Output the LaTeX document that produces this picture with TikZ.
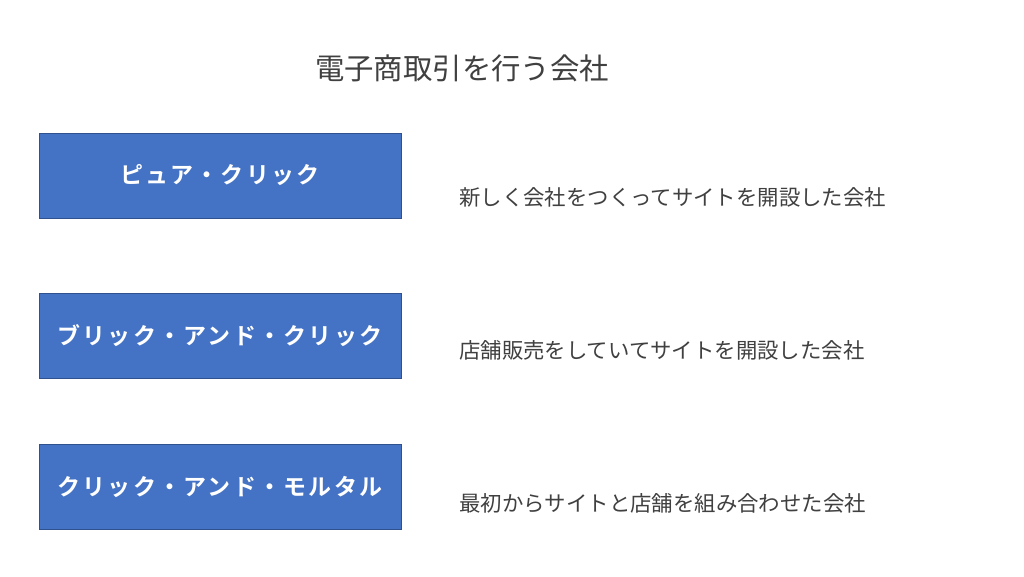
\documentclass[tikz,border=0pt]{standalone}
\usepackage{fontspec}
\newfontfamily\cjk{Noto Sans CJK JP}
\newfontfamily\cjkb[LetterSpace=10]{Noto Sans CJK JP Bold}
\definecolor{boxblue}{HTML}{4472C4}
\definecolor{boxedge}{HTML}{2F528F}
\definecolor{txtgray}{HTML}{404040}
\tikzset{
  catbox/.style={draw=boxedge, line width=0.8pt, fill=boxblue, minimum width=362pt, minimum height=85pt, inner sep=0pt, text=white, font=\cjkb\fontsize{23}{26}\selectfont},
  desc/.style={anchor=west, inner sep=0pt, text=txtgray, font=\cjk\fontsize{21.4}{25}\selectfont},
  titletext/.style={inner sep=0pt, text=txtgray, font=\cjk\fontsize{29.4}{34}\selectfont}
}
\begin{document}
\begin{tikzpicture}[x=1pt,y=-1pt]
\useasboundingbox (0,0) rectangle (1024,576);
\fill[white] (0,0) rectangle (1024,576);
\node[titletext] (title) at (462,68) {電子商取引を行う会社};
\node[catbox] (b1) at (220,175.5) {ピュア・クリック};
\node[catbox] (b2) at (220,335.5) {ブリック・アンド・クリック};
\node[catbox] (b3) at (220,486.5) {クリック・アンド・モルタル};
\node[desc] (d1) at (459,197) {新しく会社をつくってサイトを開設した会社};
\node[desc] (d2) at (459,350) {店舗販売をしていてサイトを開設した会社};
\node[desc] (d3) at (459,503) {最初からサイトと店舗を組み合わせた会社};
\end{tikzpicture}
\end{document}
